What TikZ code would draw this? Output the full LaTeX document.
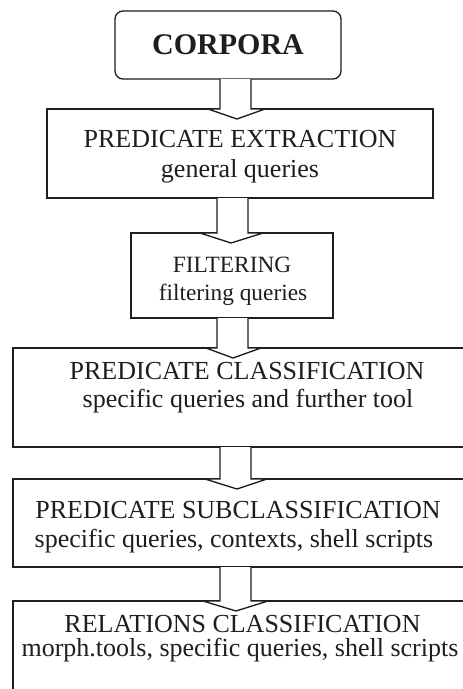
\documentclass[tikz,border=0pt]{standalone}
\usepackage{fontspec}
\setmainfont{Liberation Serif}
\usetikzlibrary{calc}
\definecolor{ink}{HTML}{1E1E1E}
\tikzset{
  box/.style={draw=ink, line width=1pt, fill=white, inner sep=0pt, outer sep=0pt},
  label/.style={anchor=base, inner sep=0pt, text=ink, font=\fontsize{19.5}{23}\selectfont},
  smalllabel/.style={label, font=\fontsize{17.5}{20}\selectfont},
  titlelabel/.style={label, font=\fontsize{22.5}{26}\selectfont\bfseries},
  arrowline/.style={draw=ink, line width=1pt, fill=white, line join=miter}
}
% hollow block arrow from the bottom of #1 to the top of #2
% #3/#4: shaft left/right, #5/#6: head left/right, #7: tip x
\newcommand\hollowarrow[7]{%
  \draw[arrowline] (#3,0 |- #1.south) -- (#3,0 |- #2.north) -- (#5,0 |- #2.north)
    -- ($(#7,0 |- #2.north)+(0,10)$) -- (#6,0 |- #2.north) -- (#4,0 |- #2.north)
    -- (#4,0 |- #1.south);}
\begin{document}
\begin{tikzpicture}[x=0.75pt,y=-0.75pt]
\useasboundingbox (0,0) rectangle (463,689);
\fill[white] (0,0) rectangle (463,689);
\clip (0,0) rectangle (463,689);

% boxes
\node[box, rounded corners=6pt, minimum width=169.5pt, minimum height=51pt] (corpora) at (228,45) {};
\node[box, minimum width=289.5pt, minimum height=66.75pt] (extr) at (240,153.5) {};
\node[box, minimum width=151.5pt, minimum height=63.75pt] (filt) at (232,275.5) {};
\node[box, minimum width=350.25pt, minimum height=74.25pt] (cls) at (246.5,397.5) {};
\node[box, minimum width=350.25pt, minimum height=66pt] (sub) at (246.5,523) {};
\node[box, minimum width=350.25pt, minimum height=89.25pt] (rel) at (246.5,660.5) {};

% arrows between the stages
\hollowarrow{corpora}{extr}{220}{251}{208}{265}{237}
\hollowarrow{extr}{filt}{217}{248}{200}{263}{231}
\hollowarrow{filt}{cls}{217}{248}{206}{261}{233}
\hollowarrow{cls}{sub}{220}{251}{205}{267}{237}
\hollowarrow{sub}{rel}{220}{251}{203}{268}{236}

% texts
\node[titlelabel] (tcorpora) at (228,54) {CORPORA};
\node[label] (textr1) at (240,147) {PREDICATE EXTRACTION};
\node[label] (textr2) at (240,177) {general queries};
\node[smalllabel] (tfilt1) at (232,272) {FILTERING};
\node[smalllabel] (tfilt2) at (233,300) {filtering queries};
\node[label] (tcls1) at (247,379) {PREDICATE CLASSIFICATION};
\node[label] (tcls2) at (248,407) {specific queries and further tool};
\node[label] (tsub1) at (238,518) {PREDICATE SUBCLASSIFICATION};
\node[label] (tsub2) at (234,547) {specific queries, contexts, shell scripts};
\node[label] (trel1) at (242.5,632) {RELATIONS CLASSIFICATION};
\node[label] (trel2) at (240,656) {morph.tools, specific queries, shell scripts};
\end{tikzpicture}
\end{document}
